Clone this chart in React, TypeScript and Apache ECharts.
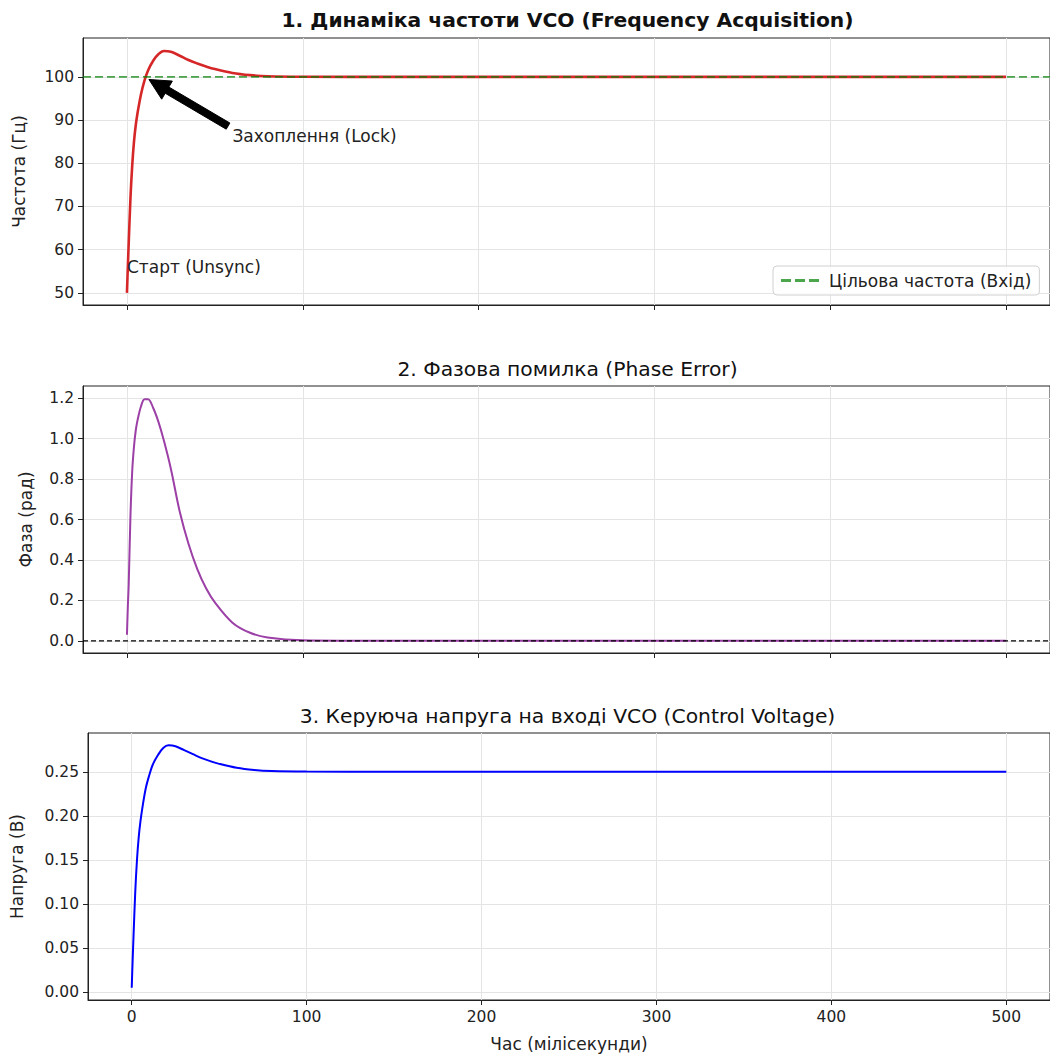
import React, { useEffect, useRef } from "react";
import * as echarts from "echarts";

const timeMs = [0, 0.5, 1, 2, 3, 4, 5, 6, 8, 10, 12, 15, 18, 21, 25, 30, 35, 40, 45, 50, 60, 70, 80, 100, 150, 200, 300, 400, 500];
const freqHz = [50, 56, 61.5, 72, 79.5, 85, 88.8, 91.6, 96, 99.2, 101.5, 103.8, 105.3, 106, 105.8, 104.9, 103.9, 103.1, 102.4, 101.8, 100.9, 100.4, 100.15, 100.03, 100, 100, 100, 100, 100];
const phaseRad = [0.03, 0.17, 0.28, 0.62, 0.84, 0.96, 1.04, 1.09, 1.16, 1.195, 1.195, 1.15, 1.08, 0.99, 0.85, 0.64, 0.48, 0.355, 0.26, 0.19, 0.09, 0.04, 0.017, 0.003, 0, 0, 0, 0, 0];
const voltageV = [0.005, 0.035, 0.062, 0.113, 0.15, 0.176, 0.194, 0.208, 0.231, 0.246, 0.258, 0.269, 0.277, 0.28, 0.279, 0.2745, 0.27, 0.2655, 0.262, 0.259, 0.2545, 0.252, 0.2508, 0.2502, 0.25, 0.25, 0.25, 0.25, 0.25];

const targetFreq = 100;
const zeroPhase = 0;
const xRange = [-25, 525];

const xTicks = [0, 100, 200, 300, 400, 500];
const freqTicks = [50, 60, 70, 80, 90, 100];
const phaseTicks = [0, 0.2, 0.4, 0.6, 0.8, 1.0, 1.2];
const voltTicks = [0, 0.05, 0.1, 0.15, 0.2, 0.25];

const titles = [
  "1. Динаміка частоти VCO (Frequency Acquisition)",
  "2. Фазова помилка (Phase Error)",
  "3. Керуюча напруга на вході VCO (Control Voltage)",
];
const yNames = ["Частота (Гц)", "Фаза (рад)", "Напруга (В)"];
const xName = "Час (мілісекунди)";
const legendLabel = "Цільова частота (Вхід)";
const lockLabel = "Захоплення (Lock)";
const startLabel = "Старт (Unsync)";
const lockPoint = [10, 100];
const lockTextPos = [60, 85];
const startTextPos = [0, 55];

const FONT = "DejaVu Sans";
const TICK_FS = 15.5;
const LABEL_FS = 17;
const TITLE_FS = 20.3;
const GRID_LEFT = 83;
const GRID_W = 969;
const GRID_H = 267;
const GRID_TOPS = [38, 386, 733];

const pairs = (ys: number[]) => timeMs.map((t, i) => [t, ys[i]]);

export default function App() {
  const ref = useRef<HTMLDivElement>(null);
  useEffect(() => {
    if (!ref.current) return;
    const chart = echarts.init(ref.current, null, { renderer: "svg" });

    const grids = GRID_TOPS.map((top) => ({
      left: GRID_LEFT,
      top,
      width: GRID_W,
      height: GRID_H,
      show: true,
      borderColor: "#222",
      borderWidth: 1,
      containLabel: false,
    }));

    const xAxes = [0, 1, 2].map((i) => ({
      type: "value",
      gridIndex: i,
      min: xRange[0],
      max: xRange[1],
      axisLine: { show: true, onZero: false, lineStyle: { color: "#222", width: 1 } },
      axisTick: { show: true, length: 5, inside: false, customValues: xTicks, lineStyle: { color: "#222" } },
      axisLabel: {
        show: i === 2,
        customValues: xTicks,
        color: "#222",
        fontFamily: FONT,
        fontSize: TICK_FS,
        margin: 9,
      },
      splitLine: { show: true, lineStyle: { color: "#e4e4e4", width: 1 } },
      name: i === 2 ? xName : "",
      nameLocation: "middle",
      nameGap: 35,
      nameTextStyle: { fontFamily: FONT, fontSize: LABEL_FS, color: "#222" },
    }));

    const yCfg = [
      { min: 47.2, max: 109, ticks: freqTicks, fmt: (v: number) => String(Math.round(v)), gap: 56 },
      { min: -0.06, max: 1.26, ticks: phaseTicks, fmt: (v: number) => v.toFixed(1), gap: 49 },
      { min: -0.0088, max: 0.294, ticks: voltTicks, fmt: (v: number) => v.toFixed(2), gap: 63 },
    ];
    const yAxes = yCfg.map((c, i) => ({
      type: "value",
      gridIndex: i,
      min: c.min,
      max: c.max,
      axisLine: { show: true, onZero: false, lineStyle: { color: "#222", width: 1 } },
      axisTick: { show: true, length: 5, inside: false, customValues: c.ticks, lineStyle: { color: "#222" } },
      axisLabel: {
        show: true,
        customValues: c.ticks,
        formatter: c.fmt,
        color: "#222",
        fontFamily: FONT,
        fontSize: TICK_FS,
        margin: 9,
      },
      splitLine: { show: true, lineStyle: { color: "#e4e4e4", width: 1 } },
      name: yNames[i],
      nameLocation: "middle",
      nameGap: c.gap,
      nameRotate: 90,
      nameTextStyle: { fontFamily: FONT, fontSize: LABEL_FS, color: "#222" },
    }));

    const option: any = {
      animation: false,
      backgroundColor: "#fff",
      grid: grids,
      xAxis: xAxes,
      yAxis: yAxes,
      legend: {
        show: true,
        left: 773,
        top: 266,
        data: [
          {
            name: legendLabel,
            icon: "path://M0,0h10v3h-10z M14,0h10v3h-10z M28,0h10v3h-10z",
            itemStyle: { color: "rgba(0,128,0,0.7)" },
          },
        ],
        orient: "vertical",
        padding: [6, 8, 6, 8],
        borderColor: "#d0d0d0",
        borderWidth: 1,
        borderRadius: 4,
        backgroundColor: "rgba(255,255,255,0.8)",
        itemWidth: 38,
        itemHeight: 3,
        itemGap: 10,
        textStyle: { fontFamily: FONT, fontSize: LABEL_FS, color: "#222", padding: [0, 0, 0, 5] },
      },
      series: [
        {
          type: "line",
          name: "freq",
          xAxisIndex: 0,
          yAxisIndex: 0,
          data: pairs(freqHz),
          showSymbol: false,
          symbol: "none",
          smooth: 0.35,
          lineStyle: { color: "#d62728", width: 2.6 },
          z: 3,
        },
        {
          type: "line",
          name: legendLabel,
          xAxisIndex: 0,
          yAxisIndex: 0,
          data: [[xRange[0], targetFreq], [xRange[1], targetFreq]],
          showSymbol: false,
          symbol: "none",
          itemStyle: { color: "rgba(0,128,0,0.7)" },
          lineStyle: { color: "rgba(0,128,0,0.7)", width: 1.6, type: [8, 4] },
          z: 4,
        },
        {
          type: "line",
          name: "phase",
          xAxisIndex: 1,
          yAxisIndex: 1,
          data: pairs(phaseRad),
          showSymbol: false,
          symbol: "none",
          smooth: 0.35,
          lineStyle: { color: "#9c3fa6", width: 2 },
          z: 3,
        },
        {
          type: "line",
          name: "zero",
          xAxisIndex: 1,
          yAxisIndex: 1,
          data: [[xRange[0], zeroPhase], [xRange[1], zeroPhase]],
          showSymbol: false,
          symbol: "none",
          lineStyle: { color: "#000", width: 1.2, type: [5, 3] },
          z: 4,
        },
        {
          type: "line",
          name: "volt",
          xAxisIndex: 2,
          yAxisIndex: 2,
          data: pairs(voltageV),
          showSymbol: false,
          symbol: "none",
          smooth: 0.35,
          lineStyle: { color: "#0000ff", width: 2 },
          z: 3,
        },
      ],
    };
    chart.setOption(option);

    const px = (p: number[]) => chart.convertToPixel({ gridIndex: 0 }, p) as number[];
    const target = px(lockPoint);
    const textPt = px(lockTextPos);
    const startPt = px(startTextPos);
    const corner = [textPt[0], textPt[1] - 13];
    const dx = corner[0] - target[0];
    const dy = corner[1] - target[1];
    const tip = [target[0] + 0.05 * dx, target[1] + 0.05 * dy];
    const tail = [corner[0] - 0.05 * dx, corner[1] - 0.05 * dy];
    const L = Math.hypot(tail[0] - tip[0], tail[1] - tip[1]);
    const ux = (tail[0] - tip[0]) / L;
    const uy = (tail[1] - tip[1]) / L;
    const nx = -uy;
    const ny = ux;
    const hl = 21, hw = 10.5, sw = 3.6;
    const base = [tip[0] + ux * hl, tip[1] + uy * hl];
    const arrowPts = [
      tip,
      [base[0] + nx * hw, base[1] + ny * hw],
      [base[0] + nx * sw, base[1] + ny * sw],
      [tail[0] + nx * sw, tail[1] + ny * sw],
      [tail[0] - nx * sw, tail[1] - ny * sw],
      [base[0] - nx * sw, base[1] - ny * sw],
      [base[0] - nx * hw, base[1] - ny * hw],
    ];

    const titleYs = [20, 369, 716];
    chart.setOption({
      graphic: [
        ...titles.map((t, i) => ({
          type: "text",
          x: GRID_LEFT + GRID_W / 2,
          y: titleYs[i],
          style: {
            text: t,
            fontFamily: FONT,
            fontSize: TITLE_FS,
            fontWeight: i === 0 ? "bold" : "normal",
            fill: "#111",
            textAlign: "center",
            textVerticalAlign: "middle",
          },
          z: 10,
        })),
        {
          type: "polygon",
          shape: { points: arrowPts },
          style: { fill: "#000", stroke: "#000", lineWidth: 1 },
          z: 10,
        },
        {
          type: "text",
          x: textPt[0],
          y: textPt[1] + 3,
          style: {
            text: lockLabel,
            fontFamily: FONT,
            fontSize: LABEL_FS,
            fill: "#222",
            textAlign: "left",
            textVerticalAlign: "bottom",
          },
          z: 10,
        },
        {
          type: "text",
          x: startPt[0],
          y: startPt[1] + 4,
          style: {
            text: startLabel,
            fontFamily: FONT,
            fontSize: LABEL_FS,
            fill: "#222",
            textAlign: "left",
            textVerticalAlign: "bottom",
          },
          z: 10,
        },
      ],
    });

    return () => chart.dispose();
  }, []);

  return (
    <div
      ref={ref}
      style={{ position: "absolute", left: 0, top: 0, width: 1050, height: 1054, background: "#fff" }}
    />
  );
}
